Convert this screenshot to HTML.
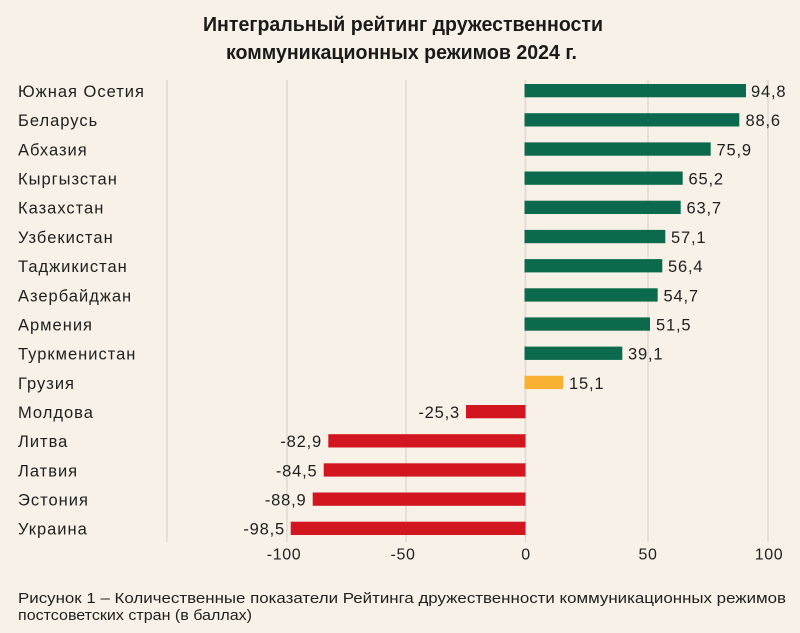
<!DOCTYPE html>
<html>
<head>
<meta charset="utf-8">
<style>
  html,body{margin:0;padding:0;background:#f8f1e8;}
  svg{display:block;}
  .lbl{font-family:"Liberation Sans","Noto Sans CJK SC",sans-serif;font-size:16.5px;fill:#1f1f1f;letter-spacing:1px;}
  .val{font-family:"Liberation Sans","Noto Sans CJK SC",sans-serif;font-size:16.5px;fill:#1f1f1f;letter-spacing:0.8px;}
  .tick{font-family:"Liberation Sans","Noto Sans CJK SC",sans-serif;font-size:16px;fill:#1f1f1f;letter-spacing:0.6px;}
  .title{font-family:"Liberation Sans","Noto Sans CJK SC",sans-serif;font-size:20px;font-weight:bold;fill:#1a1a1a;}
  .cap{font-family:"Liberation Sans","Noto Sans CJK SC",sans-serif;font-size:15px;fill:#1f1f1f;}
</style>
</head>
<body>
<svg width="800" height="633" viewBox="0 0 800 633" xmlns="http://www.w3.org/2000/svg">
  <rect width="800" height="633" fill="#f8f1e8"/>
  <!-- title -->
  <text class="title" x="203" y="31" textLength="400" lengthAdjust="spacingAndGlyphs">Интегральный рейтинг дружественности</text>
  <text class="title" x="226" y="59" textLength="351" lengthAdjust="spacingAndGlyphs">коммуникационных режимов 2024 г.</text>

  <!-- gridlines -->
  <g stroke="#ddd9d3" stroke-width="1.5">
    <line x1="167" y1="80" x2="167" y2="542"/>
    <line x1="287" y1="80" x2="287" y2="542"/>
    <line x1="406" y1="80" x2="406" y2="542"/>
    <line x1="525.5" y1="80" x2="525.5" y2="542"/>
    <line x1="648" y1="80" x2="648" y2="542"/>
    <line x1="768" y1="80" x2="768" y2="542"/>
  </g>

  <!-- bars -->
  <g fill="#0b6a4d">
    <rect x="524.5" y="84" width="221.5" height="13.3"/>
    <rect x="524.5" y="113.2" width="214.8" height="13.3"/>
    <rect x="524.5" y="142.4" width="186.2" height="13.3"/>
    <rect x="524.5" y="171.5" width="158.2" height="13.3"/>
    <rect x="524.5" y="200.7" width="156.2" height="13.3"/>
    <rect x="524.5" y="229.9" width="140.8" height="13.3"/>
    <rect x="524.5" y="259.1" width="137.8" height="13.3"/>
    <rect x="524.5" y="288.3" width="133.2" height="13.3"/>
    <rect x="524.5" y="317.4" width="125.5" height="13.3"/>
    <rect x="524.5" y="346.6" width="97.8" height="13.3"/>
  </g>
  <rect x="524.5" y="375.8" width="38.5" height="13.3" fill="#f8b133"/>
  <g fill="#d2161f">
    <rect x="466" y="405" width="59.5" height="13.3"/>
    <rect x="328.3" y="434.2" width="197.2" height="13.3"/>
    <rect x="323.7" y="463.3" width="201.8" height="13.3"/>
    <rect x="312.7" y="492.5" width="212.8" height="13.3"/>
    <rect x="290.7" y="521.7" width="234.8" height="13.3"/>
  </g>

  <!-- row labels -->
  <g class="lbl">
    <text x="18" y="97">Южная Осетия</text>
    <text x="18" y="126.2">Беларусь</text>
    <text x="18" y="155.4">Абхазия</text>
    <text x="18" y="184.5">Кыргызстан</text>
    <text x="18" y="213.7">Казахстан</text>
    <text x="18" y="242.9">Узбекистан</text>
    <text x="18" y="272.1">Таджикистан</text>
    <text x="18" y="301.3">Азербайджан</text>
    <text x="18" y="330.4">Армения</text>
    <text x="18" y="359.6">Туркменистан</text>
    <text x="18" y="388.8">Грузия</text>
    <text x="18" y="418">Молдова</text>
    <text x="18" y="447.2">Литва</text>
    <text x="18" y="476.3">Латвия</text>
    <text x="18" y="505.5">Эстония</text>
    <text x="18" y="534.7">Украина</text>
  </g>

  <!-- value labels -->
  <g class="val">
    <text x="751" y="97">94,8</text>
    <text x="745.5" y="126.2">88,6</text>
    <text x="716.5" y="155.4">75,9</text>
    <text x="688.5" y="184.5">65,2</text>
    <text x="686.5" y="213.7">63,7</text>
    <text x="671" y="242.9">57,1</text>
    <text x="668" y="272.1">56,4</text>
    <text x="663.5" y="301.3">54,7</text>
    <text x="656" y="330.4">51,5</text>
    <text x="628" y="359.6">39,1</text>
    <text x="569" y="388.8">15,1</text>
  </g>
  <g class="val" text-anchor="end">
    <text x="460" y="418">-25,3</text>
    <text x="322" y="447.2">-82,9</text>
    <text x="317.5" y="476.3">-84,5</text>
    <text x="306.5" y="505.5">-88,9</text>
    <text x="285" y="534.7">-98,5</text>
  </g>

  <!-- tick labels -->
  <g class="tick" text-anchor="middle">
    <text x="284" y="559.5">-100</text>
    <text x="403" y="559.5">-50</text>
    <text x="526" y="559.5">0</text>
    <text x="648" y="559.5">50</text>
    <text x="769" y="559.5">100</text>
  </g>

  <!-- caption -->
  <text class="cap" x="18" y="603" textLength="768" lengthAdjust="spacingAndGlyphs">Рисунок 1 – Количественные показатели Рейтинга дружественности коммуникационных режимов</text>
  <text class="cap" x="18" y="620" textLength="234" lengthAdjust="spacingAndGlyphs">постсоветских стран (в баллах)</text>
</svg>
</body>
</html>
